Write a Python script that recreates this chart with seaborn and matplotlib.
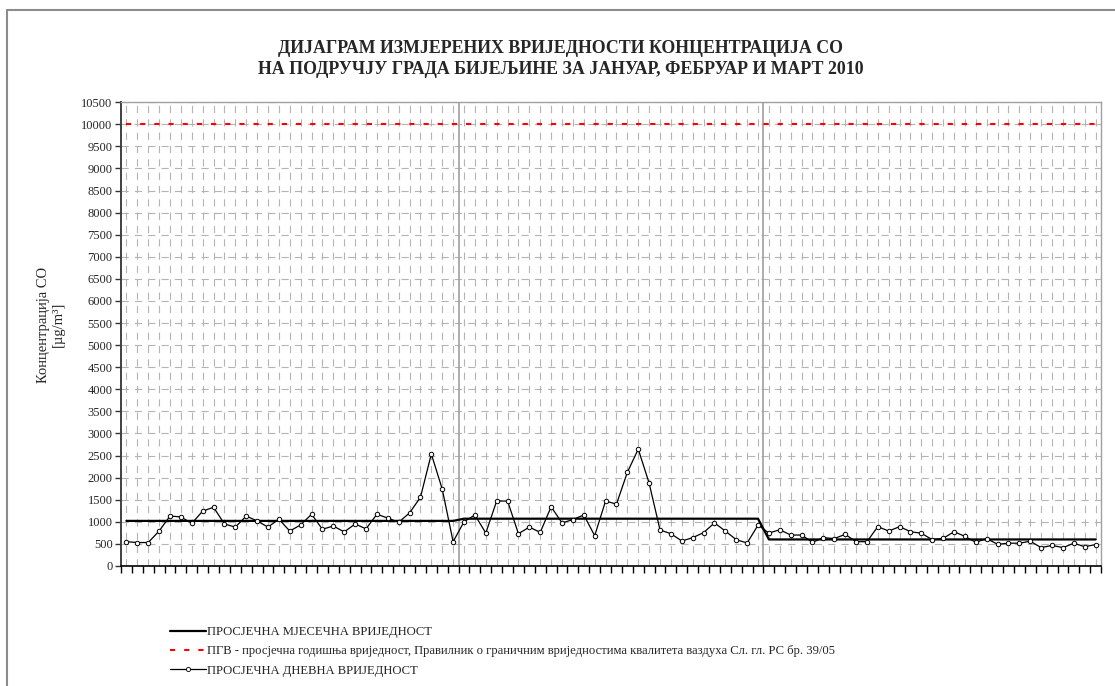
import numpy as np
import pandas as pd
import seaborn as sns
import matplotlib.pyplot as plt
from matplotlib.lines import Line2D

# daily CO concentrations [ug/m3]
jan = [550, 530, 530, 790, 1130, 1110, 965, 1240, 1330, 950, 880, 1130, 1020, 880, 1060, 790,
       930, 1170, 830, 905, 770, 950, 840, 1170, 1085, 990, 1200, 1555, 2535, 1740, 550]
feb = [1000, 1155, 745, 1470, 1470, 730, 880, 760, 1340, 975, 1050, 1155, 685, 1470, 1400,
       2120, 2645, 1875, 815, 730, 565, 640, 755, 975, 790, 595, 520, 925]
mar = [745, 820, 700, 700, 535, 640, 620, 715, 550, 550, 890, 790, 890, 775, 740, 595, 625,
       775, 670, 535, 620, 490, 515, 515, 560, 415, 465, 415, 515, 435, 485]
monthly_mean = [1020, 1070, 600]
limit_value = 10000

title = ("ДИЈАГРАМ ИЗМЈЕРЕНИХ ВРИЈЕДНОСТИ КОНЦЕНТРАЦИЈА СО\n"
         "НА ПОДРУЧЈУ ГРАДА БИЈЕЉИНЕ ЗА ЈАНУАР, ФЕБРУАР И МАРТ 2010")
labels = ["ПРОСЈЕЧНА МЈЕСЕЧНА ВРИЈЕДНОСТ",
          "ПГВ - просјечна годишња вриједност, Правилник о граничним вриједностима "
          "квалитета ваздуха Сл. гл. РС бр. 39/05",
          "ПРОСЈЕЧНА ДНЕВНА ВРИЈЕДНОСТ"]

sns.set_style('white')
plt.rcParams['font.family'] = ['Liberation Serif', 'DejaVu Serif']

daily = jan + feb + mar
lengths = [len(jan), len(feb), len(mar)]
df = pd.DataFrame({'day': np.arange(len(daily)),
                   'daily': daily,
                   'mean': np.repeat(monthly_mean, lengths),
                   'limit': limit_value})

fig = plt.figure(figsize=(11.15, 6.86), dpi=100)
ax = fig.add_axes([0.1085, 0.175, 0.879, 0.676])

ax.set_xticks(df['day'])
ax.set_xticks(np.arange(-0.5, len(daily), 1), minor=True)
ax.set_yticks(np.arange(0, 10501, 500))
ax.grid(True, which='major', linestyle=(0, (6.5, 5.5)), color='#b4b4b4', lw=0.8)
ax.set_axisbelow(True)

# month separators
sep = np.cumsum(lengths)[:-1] - 0.5
for s in sep:
    ax.axvline(s, color='#a0a0a0', lw=1.2, zorder=1)

sns.lineplot(data=df, x='day', y='limit', color='#ff0000', lw=1.5,
             linestyle=(0, (2.5, 4.3)), ax=ax, zorder=2)
sns.lineplot(data=df, x='day', y='mean', color='black', lw=1.6, ax=ax, zorder=3)
sns.lineplot(data=df, x='day', y='daily', color='black', lw=0.9, marker='o',
             markersize=3.2, markerfacecolor='white', markeredgecolor='black',
             markeredgewidth=0.7, ax=ax, zorder=4)

ax.set_xlim(-0.5, len(daily) - 0.5)
ax.set_ylim(0, 10500)
ax.set_xlabel('')
ax.set_xticklabels([])
ax.tick_params(axis='x', which='major', length=0, bottom=True)
ax.tick_params(axis='x', which='minor', length=5, width=1, direction='out',
               color='black', bottom=True)
ax.tick_params(axis='y', which='major', length=4, width=1, direction='out', color='#333333',
               labelsize=9, pad=2, left=True)

for side in ['top', 'right']:
    ax.spines[side].set_color('#a0a0a0')
    ax.spines[side].set_linewidth(1)
ax.spines['left'].set_color('#404040')
ax.spines['left'].set_linewidth(1.4)
ax.spines['bottom'].set_color('black')
ax.spines['bottom'].set_linewidth(1.2)

ax.set_ylabel("Концентрација СО\n[µg/m³]", fontsize=10.5, linespacing=1.25)
ax.yaxis.set_label_coords(-0.057, 0.52)

fig.text(0.503, 0.914, title, ha='center', va='center', fontsize=12.9,
         fontweight='bold', linespacing=1.3)

handles = [Line2D([], [], color='black', lw=1.6),
           Line2D([], [], color='#ff0000', lw=1.5, linestyle=(0, (2.5, 4.3))),
           Line2D([], [], color='black', lw=0.9, marker='o', markersize=3,
                  markerfacecolor='white', markeredgecolor='black', markeredgewidth=0.6)]
fig.legend(handles, labels, loc='upper left', bbox_to_anchor=(0.1525, 0.0875),
           frameon=False, fontsize=9.1, handlelength=2.85, handletextpad=0.1,
           labelspacing=0.58, borderpad=0, borderaxespad=0, numpoints=1)

# outer chart frame (top and left edges)
fig.add_artist(Line2D([7 / 1115, 1], [1 - 10 / 686] * 2, transform=fig.transFigure,
                      color='#8c8c8c', lw=1.5))
fig.add_artist(Line2D([7 / 1115] * 2, [0, 1 - 10 / 686], transform=fig.transFigure,
                      color='#8c8c8c', lw=1.5))

fig.savefig('out.png', dpi=100)
